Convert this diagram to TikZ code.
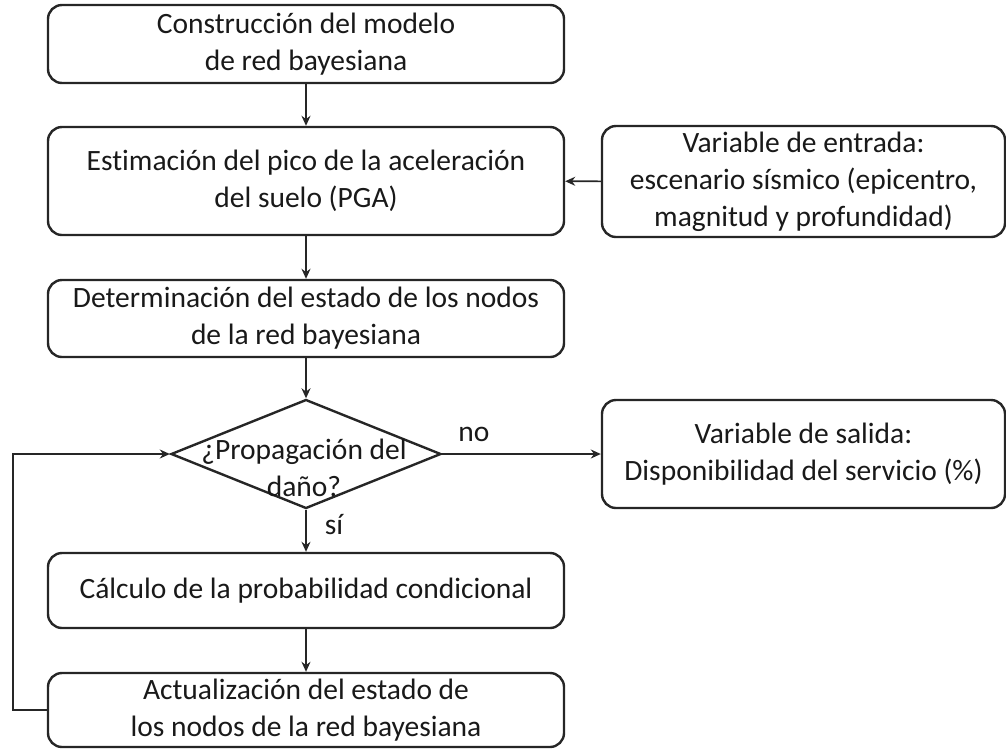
\documentclass[tikz,border=0pt]{standalone}
\usepackage{fontspec}
\setmainfont[Ligatures=NoCommon]{Carlito}
\usetikzlibrary{shapes.geometric,arrows.meta}
\begin{document}
\begin{tikzpicture}[x=1pt,y=-1pt,
  box/.style={draw=black!85, line width=2.4pt, rounded corners=14pt, align=center,
    font=\fontsize{29.5}{37}\selectfont, inner sep=0pt, text=black!90},
  conn/.style={draw=black!85, line width=1.6pt, -{Stealth[length=10pt,width=9pt]}},
  lbl/.style={font=\fontsize{29.5}{37}\selectfont, text=black!90, inner sep=0pt}]
\useasboundingbox (0,0) rectangle (1006,748);
\node[box, minimum width=516pt, minimum height=78pt] (b1) at (306,44)
  {Construcción del modelo\\ de red bayesiana};
\node[box, minimum width=516pt, minimum height=108pt] (b2) at (306,181)
  {Estimación del pico de la aceleración\\ del suelo (PGA)};
\node[box, minimum width=403pt, minimum height=111pt] (in) at (803.5,181.5)
  {Variable de entrada:\\ escenario sísmico (epicentro,\\ magnitud y profundidad)};
\node[box, minimum width=516pt, minimum height=77pt] (b3) at (306,318.5)
  {Determinación del estado de los nodos\\ de la red bayesiana};
\node[draw=black!85, line width=2.4pt, shape=diamond, inner sep=0pt,
  minimum width=270pt, minimum height=109pt] (d) at (306,454) {};
\node[lbl, align=center] (dt) at (304,468) {¿Propagación del\\ daño?};
\node[box, minimum width=403pt, minimum height=108pt] (out) at (803.5,454)
  {Variable de salida:\\ Disponibilidad del servicio (\%)};
\node[box, minimum width=516pt, minimum height=75pt] (c) at (306,590.5)
  {Cálculo de la probabilidad condicional};
\node[box, minimum width=516pt, minimum height=74pt] (a) at (306,710)
  {Actualización del estado de\\ los nodos de la red bayesiana};
\coordinate (lb) at (13,710);
\coordinate (lt) at (13,454);
\draw[conn] (b1) -- (b2);
\draw[conn] (in) -- (b2);
\draw[conn] (b2) -- (b3);
\draw[conn] (b3) -- (d);
\draw[conn] (d) -- node[lbl, pos=0.2, above=12pt] (no) {no} (out);
\draw[conn] (d) -- node[lbl, pos=0.35, right=18pt] (si) {sí} (c);
\draw[conn] (c) -- (a);
\draw[conn] (a.west) -- (lb) -- (lt) -- (d.west);
\end{tikzpicture}
\end{document}
